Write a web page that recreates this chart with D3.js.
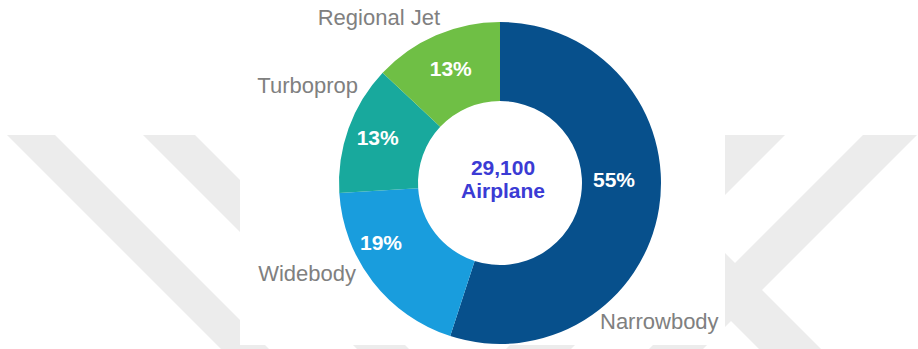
<!DOCTYPE html>
<html>
<head>
<meta charset="utf-8">
<script src="https://cdn.jsdelivr.net/npm/d3@7"></script>
<style>
  html, body { margin: 0; padding: 0; background: #ffffff; }
  svg { display: block; }
</style>
</head>
<body>
<svg id="chart" width="918" height="349"></svg>
<script>
// Fleet mix by airplane type
const categories = ["Narrowbody", "Widebody", "Turboprop", "Regional Jet"];
const shares = [55, 19, 13, 13];
const colors = ["#07508c", "#199ddd", "#18a99d", "#6fbf45"];
const totalLabel = "29,100";
const totalUnit = "Airplane";

const W = 918, H = 349;
const cx = 500, cy = 183;
const outerR = 161, innerR = 82;

const svg = d3.select("#chart");

// Background watermark: light diagonal bands
const bg = svg.append("g");
const bandTop = 135, bandBottom = 349;
const bands = [
  { dir: "down", lo: -128, hi: -80 },
  { dir: "down", lo: 8, hi: 60 },
  { dir: "up", lo: 855, hi: 920 },
  { dir: "up", lo: 998, hi: 1052 },
  { dir: "down", lo: 410, hi: 472 }
];
bands.forEach(b => {
  const xAt = (c, y) => b.dir === "down" ? c + y : c - y;
  const pts = [
    [xAt(b.lo, bandTop), bandTop],
    [xAt(b.hi, bandTop), bandTop],
    [xAt(b.hi, bandBottom), bandBottom],
    [xAt(b.lo, bandBottom), bandBottom]
  ];
  bg.append("polygon")
    .attr("points", pts.map(p => p.join(",")).join(" "))
    .attr("fill", "#ececec");
});
// white panel behind the chart
bg.append("rect")
  .attr("x", 240).attr("y", 0)
  .attr("width", 485).attr("height", 345)
  .attr("fill", "#ffffff");

// Donut
const pie = d3.pie().value(d => d).sort(null);
const arcs = pie(shares);
const arc = d3.arc().innerRadius(innerR).outerRadius(outerR);

const g = svg.append("g").attr("transform", `translate(${cx},${cy})`);

g.selectAll("path.slice")
  .data(arcs)
  .join("path")
  .attr("class", "slice")
  .attr("d", arc)
  .attr("fill", (d, i) => colors[i]);

// Percentage labels (centroid with a small placement nudge)
const pctNudge = [[-6, -23], [-23, -15], [-8, -4], [-1, -3]];
g.selectAll("text.pct")
  .data(arcs)
  .join("text")
  .attr("class", "pct")
  .attr("x", (d, i) => arc.centroid(d)[0] + pctNudge[i][0])
  .attr("y", (d, i) => arc.centroid(d)[1] + pctNudge[i][1])
  .attr("text-anchor", "middle")
  .attr("dominant-baseline", "central")
  .attr("font-family", "Liberation Sans, Arial, sans-serif")
  .attr("font-weight", "bold")
  .attr("font-size", 21)
  .attr("fill", "#ffffff")
  .text(d => d.data + "%");

// Category labels around the ring
const catPos = [
  { x: 100, y: 146, anchor: "start" },
  { x: -144, y: 98, anchor: "end" },
  { x: -142, y: -90, anchor: "end" },
  { x: -60, y: -158, anchor: "end" }
];
g.selectAll("text.cat")
  .data(categories)
  .join("text")
  .attr("class", "cat")
  .attr("x", (d, i) => catPos[i].x)
  .attr("y", (d, i) => catPos[i].y)
  .attr("text-anchor", (d, i) => catPos[i].anchor)
  .attr("font-family", "Liberation Sans, Arial, sans-serif")
  .attr("font-size", 22)
  .attr("fill", "#808080")
  .text(d => d);

// Center total
const center = g.append("text")
  .attr("text-anchor", "middle")
  .attr("font-family", "Liberation Sans, Arial, sans-serif")
  .attr("font-weight", "bold")
  .attr("font-size", 21)
  .attr("fill", "#3b3bd4");
center.append("tspan").attr("x", 3).attr("y", -8).text(totalLabel);
center.append("tspan").attr("x", 3).attr("y", 15).text(totalUnit);
</script>
</body>
</html>
